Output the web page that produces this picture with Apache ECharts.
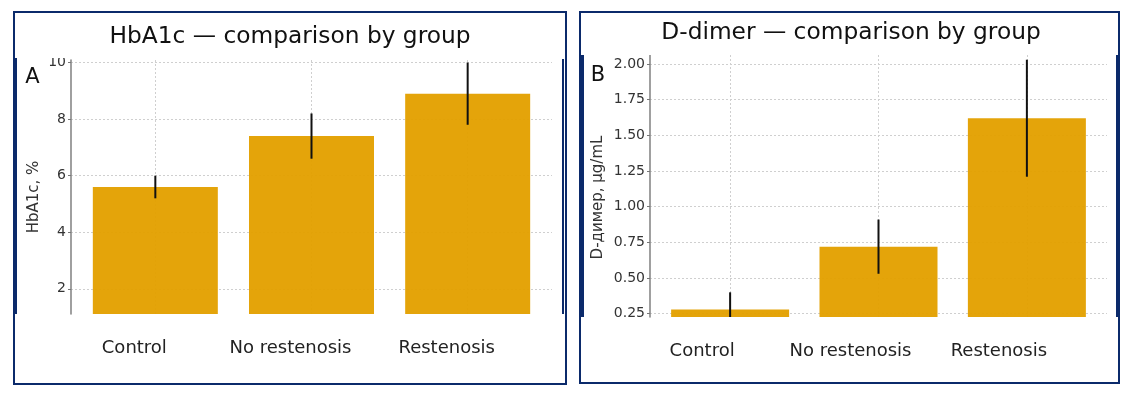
<!DOCTYPE html>
<html>
<head>
<meta charset="utf-8">
<script src="https://cdn.jsdelivr.net/npm/echarts@6/dist/echarts.min.js"></script>
<style>
html,body{margin:0;padding:0;background:#fff;}
#chart{width:1133px;height:398px;}
</style>
</head>
<body>
<div id="chart"></div>
<script>
// groups on the x axis
var groups = ['Control', 'No restenosis', 'Restenosis'];
// HbA1c, % : mean and error
var hbaMean = [5.6, 7.4, 8.9];
var hbaErr = [0.4, 0.8, 1.1];
var hbaTicks = [2, 4, 6, 8, 10];
// D-dimer, ug/mL : mean and error
var ddMean = [0.28, 0.72, 1.62];
var ddErr = [0.12, 0.19, 0.41];
var ddTicks = [0.25, 0.5, 0.75, 1.0, 1.25, 1.5, 1.75, 2.0];

var navy = '#0b2a6b';
var barColor = '#e3a000';
var font = '"DejaVu Sans", sans-serif';

var hbaMin = 1.11, hbaMax = 10.09;
var ddMin = 0.227, ddMax = 2.063;

function barData(mean){
	return mean.map(function(v, i){ return [i, v]; });
}
function errData(mean, err){
	return mean.map(function(v, i){ return [i, v - err[i], v + err[i]]; });
}
function errRender(lo, hi){
	return function(params, api){
		var x = api.value(0);
		var a = api.coord([x, Math.max(api.value(1), lo)]);
		var b = api.coord([x, Math.min(api.value(2), hi)]);
		return {
			type: 'line',
			shape: {x1: a[0], y1: a[1], x2: b[0], y2: b[1]},
			style: {stroke: '#111', lineWidth: 2}
		};
	};
}
function xAxisOpt(idx, padRight){
	return {
		type: 'value', gridIndex: idx, min: -0.54, max: 2.54,
		axisLine: {show: false},
		axisTick: {show: false, customValues: [0, 1, 2]},
		axisLabel: {
			customValues: [0, 1, 2],
			margin: 25,
			fontSize: 18,
			fontFamily: font,
			color: '#222',
			padding: [0, padRight, 0, 0],
			formatter: function(v){ return groups[Math.round(v)]; }
		},
		splitLine: {show: true, lineStyle: {color: '#cfcfcf', type: [2, 2], width: 1}}
	};
}
function yAxisOpt(idx, min, max, ticks, fmt){
	return {
		type: 'value', gridIndex: idx, min: min, max: max,
		axisLine: {show: true, onZero: false, lineStyle: {color: '#888', width: 1.6}},
		axisTick: {show: true, length: 3, customValues: ticks, lineStyle: {color: '#777'}},
		axisLabel: {customValues: ticks, fontSize: 14, fontFamily: font, color: '#333', margin: 5, formatter: fmt},
		splitLine: {show: true, lineStyle: {color: '#cfcfcf', type: [2, 2], width: 1}}
	};
}

var chart = echarts.init(document.getElementById('chart'));
var option = {
	animation: false,
	grid: [
		{left: 71, top: 60, width: 481, height: 254},
		{left: 650, top: 55, width: 457, height: 262}
	],
	xAxis: [xAxisOpt(0, 42), xAxisOpt(1, 56)],
	yAxis: [
		yAxisOpt(0, hbaMin, hbaMax, hbaTicks, function(v){ return String(v); }),
		yAxisOpt(1, ddMin, ddMax, ddTicks, function(v){ return v.toFixed(2); })
	],
	series: [
		{type: 'bar', xAxisIndex: 0, yAxisIndex: 0, data: barData(hbaMean), barWidth: 125,
			itemStyle: {color: barColor, opacity: 0.96}},
		{type: 'custom', xAxisIndex: 0, yAxisIndex: 0, data: errData(hbaMean, hbaErr),
			encode: {x: 0, y: [1, 2]}, renderItem: errRender(hbaMin, hbaMax), z: 5},
		{type: 'bar', xAxisIndex: 1, yAxisIndex: 1, data: barData(ddMean), barWidth: 118,
			itemStyle: {color: barColor, opacity: 0.96}},
		{type: 'custom', xAxisIndex: 1, yAxisIndex: 1, data: errData(ddMean, ddErr),
			encode: {x: 0, y: [1, 2]}, renderItem: errRender(ddMin, ddMax), z: 5}
	],
	graphic: [
		// white strip above inner plots (cuts the top tick label like the source image)
		{type: 'rect', shape: {x: 15, y: 13, width: 551, height: 45}, style: {fill: '#fff'}, z: 8},
		{type: 'rect', shape: {x: 581, y: 13, width: 538, height: 42}, style: {fill: '#fff'}, z: 8},
		// panel frames
		{type: 'rect', shape: {x: 14, y: 12, width: 552, height: 372}, style: {fill: 'none', stroke: navy, lineWidth: 2}, z: 10},
		{type: 'rect', shape: {x: 580, y: 12, width: 539, height: 371}, style: {fill: 'none', stroke: navy, lineWidth: 2}, z: 10},
		// side bars of the inner images
		{type: 'rect', shape: {x: 13, y: 58, width: 4, height: 256}, style: {fill: navy}, z: 10},
		{type: 'rect', shape: {x: 562, y: 59, width: 2, height: 255}, style: {fill: navy}, z: 10},
		{type: 'rect', shape: {x: 579, y: 55, width: 5, height: 262}, style: {fill: navy}, z: 10},
		{type: 'rect', shape: {x: 1116, y: 55, width: 4, height: 262}, style: {fill: navy}, z: 10},
		// titles
		{type: 'text', x: 290, y: 37, z: 11, style: {text: 'HbA1c — comparison by group', align: 'center', verticalAlign: 'middle', font: '23.3px ' + font, fill: '#111'}},
		{type: 'text', x: 851, y: 33, z: 11, style: {text: 'D-dimer — comparison by group', align: 'center', verticalAlign: 'middle', font: '23.3px ' + font, fill: '#111'}},
		// panel letters
		{type: 'text', x: 32.5, y: 77.5, z: 11, style: {text: 'A', align: 'center', verticalAlign: 'middle', font: '21px ' + font, fill: '#111'}},
		{type: 'text', x: 598, y: 75.5, z: 11, style: {text: 'B', align: 'center', verticalAlign: 'middle', font: '21px ' + font, fill: '#111'}},
		// y axis names
		{type: 'text', x: 34, y: 197, rotation: Math.PI / 2, z: 11, style: {text: 'HbA1c, %', align: 'center', verticalAlign: 'middle', font: '15px ' + font, fill: '#333'}},
		{type: 'text', x: 598, y: 197.5, rotation: Math.PI / 2, z: 11, style: {text: 'D-димер, μg/mL', align: 'center', verticalAlign: 'middle', font: '15px ' + font, fill: '#333'}}
	]
};
chart.setOption(option);
</script>
</body>
</html>
